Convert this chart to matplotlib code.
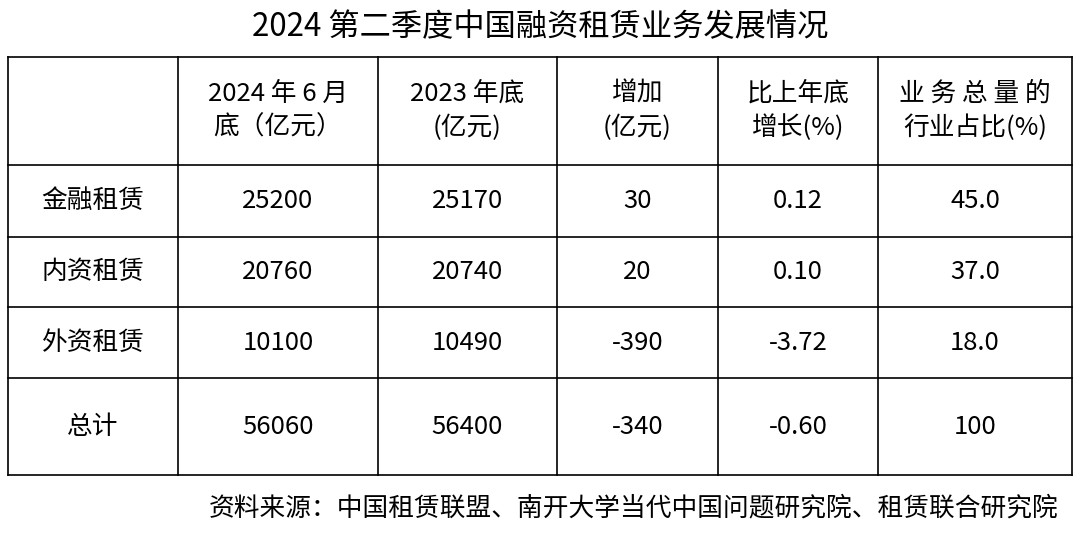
import matplotlib
matplotlib.use("Agg")
import matplotlib.pyplot as plt

plt.rcParams['font.family'] = ['Noto Sans CJK SC', 'DejaVu Sans']

title = "2024 第二季度中国融资租赁业务发展情况"
headers = ["", "2024 年 6 月\n底（亿元）", "2023 年底\n(亿元)", "增加\n(亿元)", "比上年底\n增长(%)", "业 务 总 量 的\n行业占比(%)"]
categories = ["金融租赁", "内资租赁", "外资租赁", "总计"]
jun2024 = ["25200", "20760", "10100", "56060"]
end2023 = ["25170", "20740", "10490", "56400"]
increase = ["30", "20", "-390", "-340"]
growth = ["0.12", "0.10", "-3.72", "-0.60"]
share = ["45.0", "37.0", "18.0", "100"]
source = "资料来源：中国租赁联盟、南开大学当代中国问题研究院、租赁联合研究院"

fig = plt.figure(figsize=(10.8, 5.34), dpi=100)
ax = fig.add_axes([0, 0, 1, 1])
ax.set_xlim(0, 1080); ax.set_ylim(534, 0); ax.axis('off')

xs = [8, 178, 378, 557, 718, 878, 1072]
ys = [57, 165, 237, 307, 378, 475]
for x in xs:
    ax.plot([x, x], [ys[0], ys[-1]], color='black', lw=1.2)
for y in ys:
    ax.plot([xs[0], xs[-1]], [y, y], color='black', lw=1.2)

ax.text(540, 27, title, ha='center', va='center', fontsize=22.5)
fs = 18.5
for j, h in enumerate(headers):
    ax.text((xs[j]+xs[j+1])/2, (ys[0]+ys[1])/2, h, ha='center', va='center', fontsize=fs, linespacing=1.4)
cols = [categories, jun2024, end2023, increase, growth, share]
for i in range(4):
    for j, c in enumerate(cols):
        ax.text((xs[j]+xs[j+1])/2, (ys[i+1]+ys[i+2])/2, c[i], ha='center', va='center', fontsize=fs)
ax.text(1058, 508, source, ha='right', va='center', fontsize=18.5)

fig.savefig("out.png", dpi=100)
